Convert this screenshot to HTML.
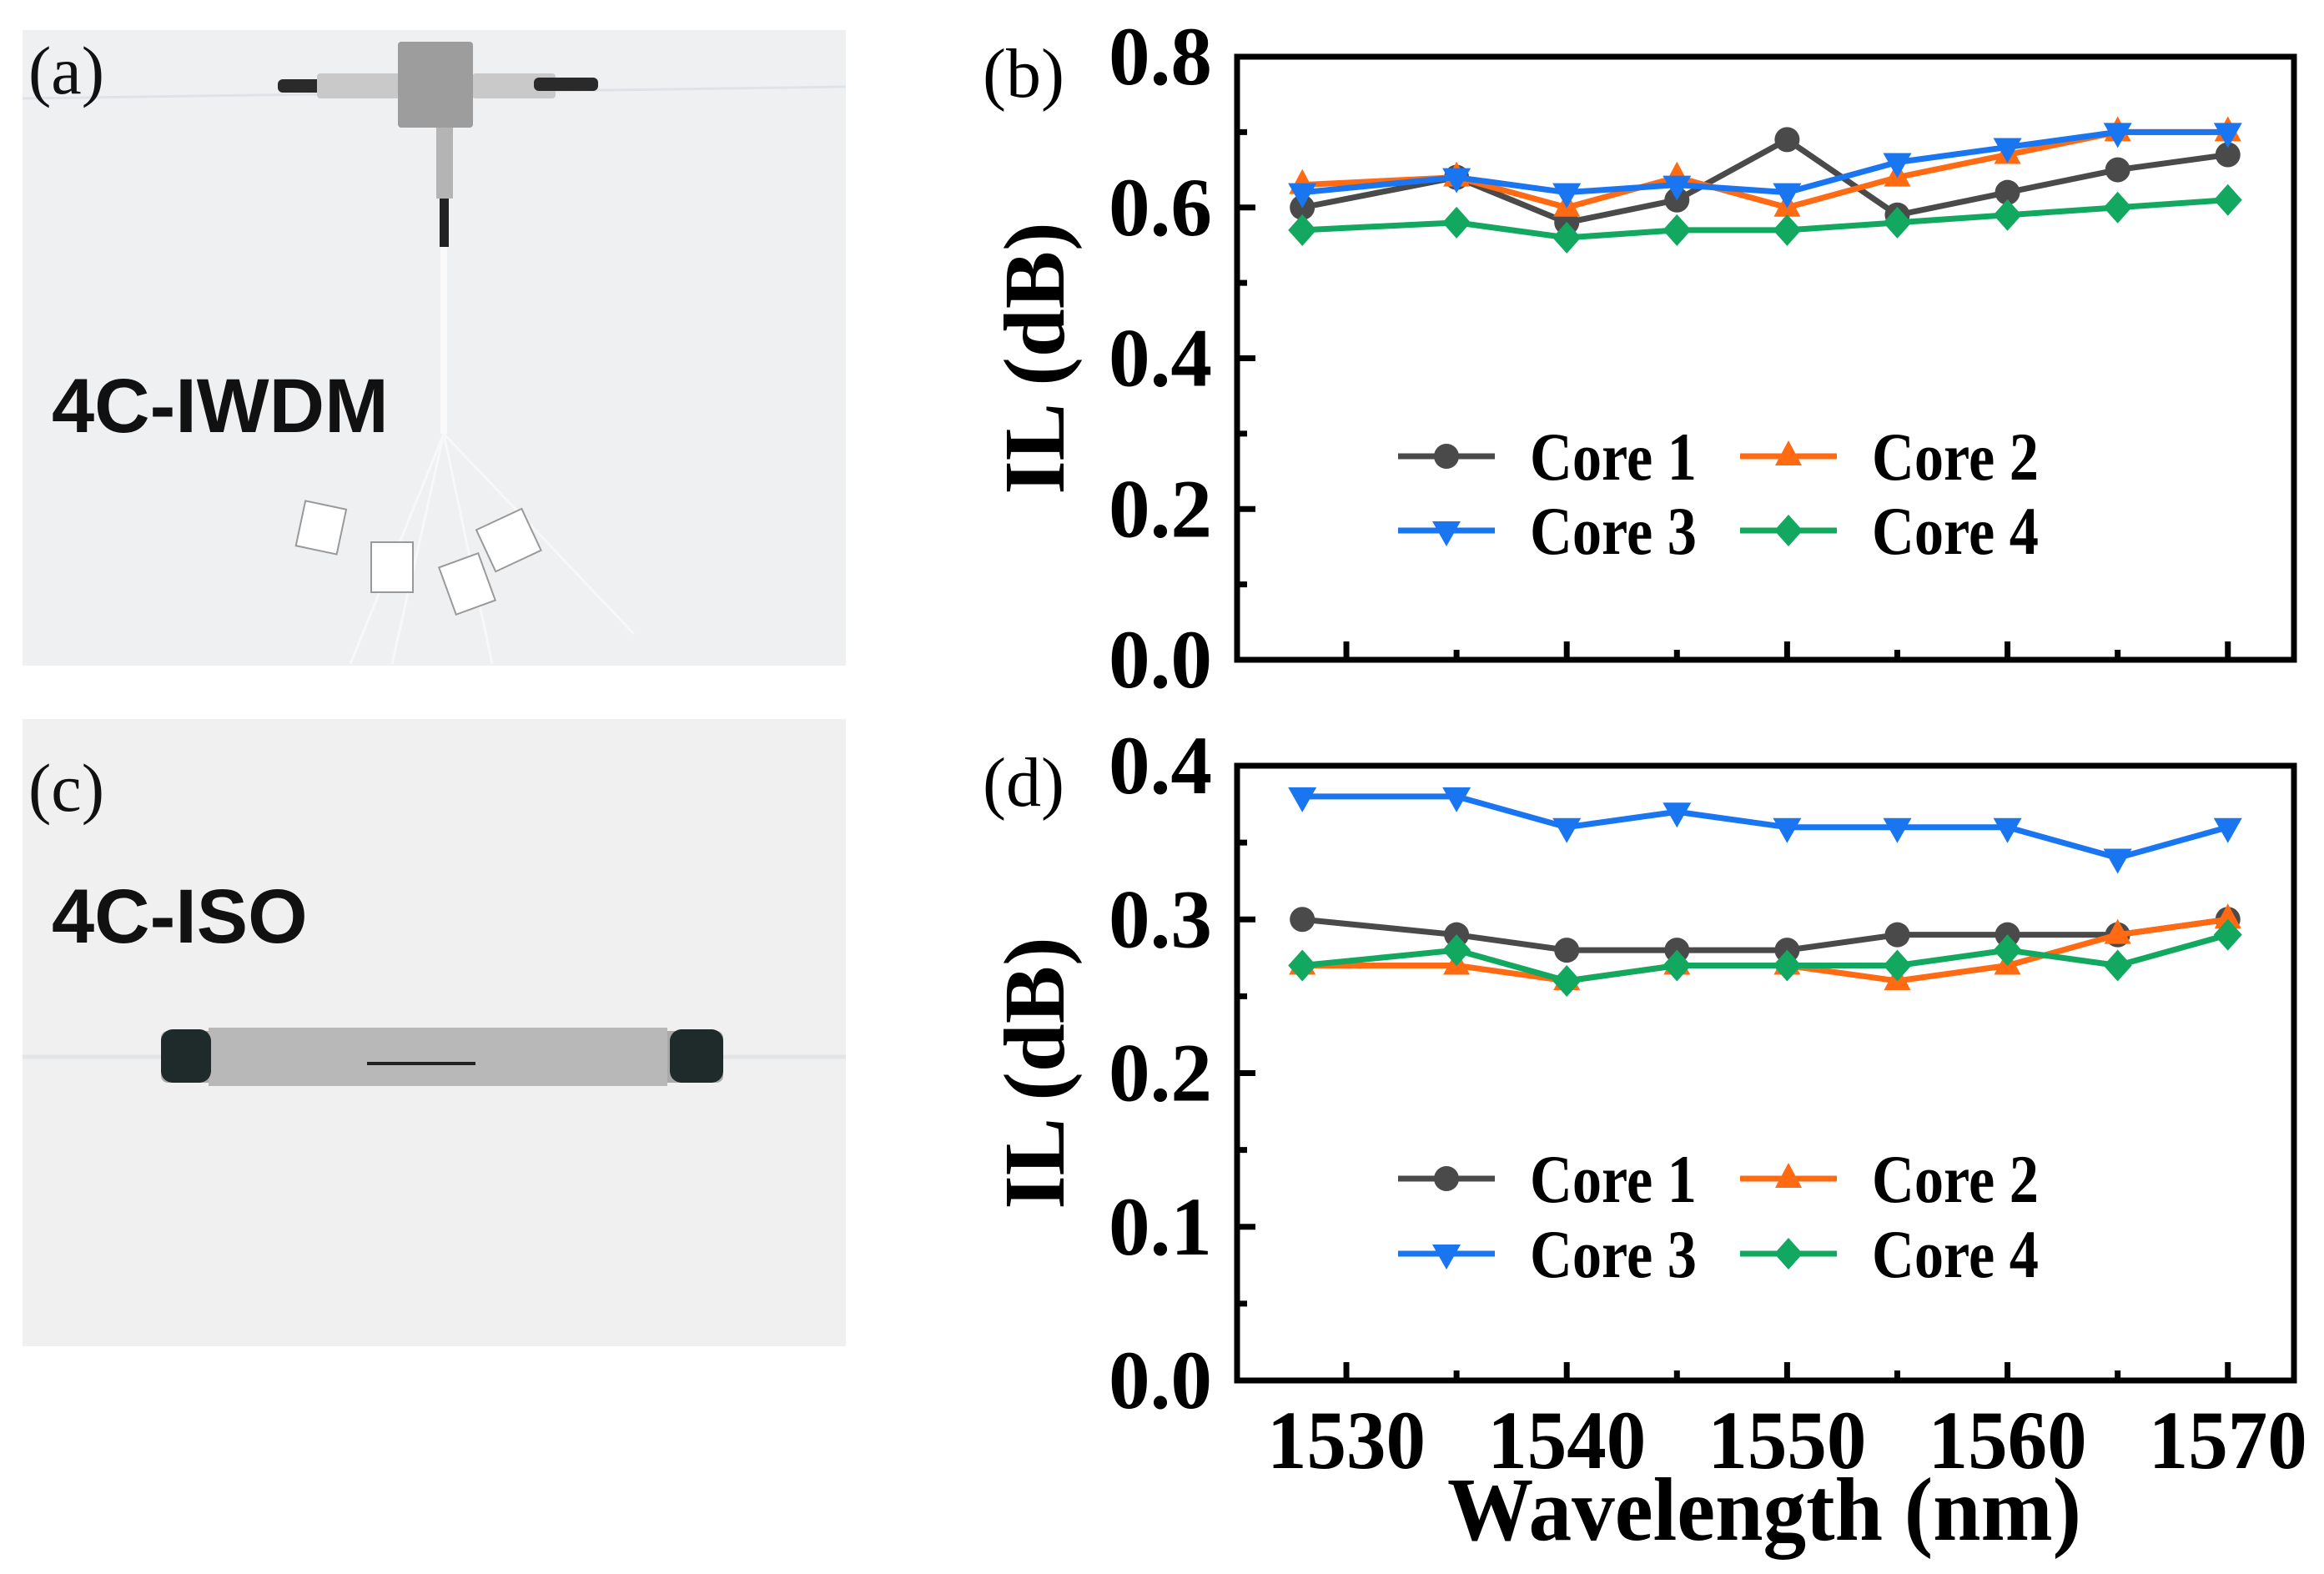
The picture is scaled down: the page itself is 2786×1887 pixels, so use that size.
<!DOCTYPE html>
<html><head><meta charset="utf-8">
<style>
html,body{margin:0;padding:0;background:#fff;}
svg{display:block;}
text{font-family:"Liberation Serif",serif;}
</style></head>
<body>
<svg id="fig" width="2786" height="1887" viewBox="0 0 2786 1887" xmlns="http://www.w3.org/2000/svg">
  <g>
    <rect x="27" y="36" width="987" height="762" fill="#eef0f2"/>
    <line x1="27" y1="118" x2="1014" y2="104" stroke="#dfe3e8" stroke-width="3"/>
    <rect x="333" y="95" width="90" height="16" rx="6" fill="#2a2a2a"/>
    <rect x="380" y="88" width="100" height="30" rx="4" fill="#c9c9c9"/>
    <rect x="566" y="88" width="100" height="30" rx="4" fill="#c9c9c9"/>
    <rect x="640" y="93" width="77" height="16" rx="6" fill="#2a2a2a"/>
    <rect x="477" y="50" width="90" height="103" rx="4" fill="#9d9d9d"/>
    <rect x="523" y="153" width="20" height="85" fill="#b4b4b4"/>
    <rect x="527" y="238" width="11" height="58" fill="#222"/>
    <line x1="532" y1="296" x2="532" y2="520" stroke="#fafafa" stroke-width="8"/>
    <path d="M532 520 L420 796 M532 520 L470 796 M532 520 L590 796 M532 520 L760 760" stroke="#f8f8f8" stroke-width="3" fill="none"/>
    <rect x="360" y="605" width="50" height="55" fill="#fff" stroke="#999" stroke-width="2" transform="rotate(12 385 632)"/>
    <rect x="445" y="650" width="50" height="60" fill="#fff" stroke="#999" stroke-width="2"/>
    <rect x="535" y="670" width="50" height="60" fill="#fff" stroke="#999" stroke-width="2" transform="rotate(-20 560 700)"/>
    <rect x="580" y="620" width="60" height="55" fill="#fff" stroke="#999" stroke-width="2" transform="rotate(-25 610 648)"/>
    <text x="62" y="518" font-weight="bold" font-size="92" fill="#111" style="font-family:'Liberation Sans',sans-serif">4C-IWDM</text>
    <text x="34" y="112" font-size="82" fill="#111">(a)</text>
  </g>
  <g>
    <rect x="27" y="862" width="987" height="752" fill="#f0f0f1"/>
    <line x1="27" y1="1267" x2="1014" y2="1267" stroke="#e2e4e6" stroke-width="5"/>
    <rect x="193" y="1236" width="674" height="62" rx="8" fill="#a9a9a9"/>
    <rect x="250" y="1232" width="550" height="70" fill="#b8b8b8"/>
    <rect x="193" y="1234" width="60" height="64" rx="14" fill="#1f2a2a"/>
    <rect x="803" y="1234" width="64" height="64" rx="14" fill="#1f2a2a"/>
    <line x1="440" y1="1275" x2="570" y2="1275" stroke="#222" stroke-width="4"/>
    <text x="62" y="1130" font-weight="bold" font-size="92" fill="#111" style="font-family:'Liberation Sans',sans-serif">4C-ISO</text>
    <text x="34" y="972" font-size="82" fill="#111">(c)</text>
  </g>
  <g id="charts"></g>
</svg>
<script>
const wavelengths = [1528, 1535, 1540, 1545, 1550, 1555, 1560, 1565, 1570];
const xTicks = [1530, 1540, 1550, 1560, 1570];
const seriesNames = ["Core 1", "Core 2", "Core 3", "Core 4"];
const bCore1 = [0.60, 0.64, 0.58, 0.61, 0.69, 0.59, 0.62, 0.65, 0.67];
const bCore2 = [0.63, 0.64, 0.60, 0.64, 0.60, 0.64, 0.67, 0.70, 0.70];
const bCore3 = [0.62, 0.64, 0.62, 0.63, 0.62, 0.66, 0.68, 0.70, 0.70];
const bCore4 = [0.57, 0.58, 0.56, 0.57, 0.57, 0.58, 0.59, 0.60, 0.61];
const bYTicks = ["0.0", "0.2", "0.4", "0.6", "0.8"];
const dCore1 = [0.30, 0.29, 0.28, 0.28, 0.28, 0.29, 0.29, 0.29, 0.30];
const dCore2 = [0.27, 0.27, 0.26, 0.27, 0.27, 0.26, 0.27, 0.29, 0.30];
const dCore3 = [0.38, 0.38, 0.36, 0.37, 0.36, 0.36, 0.36, 0.34, 0.36];
const dCore4 = [0.27, 0.28, 0.26, 0.27, 0.27, 0.27, 0.28, 0.27, 0.29];
const dYTicks = ["0.0", "0.1", "0.2", "0.3", "0.4"];

const NS = "http://www.w3.org/2000/svg";
const colors = ["#4a4a4a", "#ff6a13", "#1a75f0", "#12a85f"];
const markers = ["circle", "up", "down", "diamond"];
const xMin = 1525.04, xMax = 1573.0, L = 1483, R = 2750;
function xs(v){ return L + (v - xMin) / (xMax - xMin) * (R - L); }
function mk(tag, attrs, parent){ const e = document.createElementNS(NS, tag); for (const k in attrs) e.setAttribute(k, attrs[k]); parent.appendChild(e); return e; }

function marker(g, type, x, y, c){
  let e;
  if (type === "circle") e = mk("circle", {cx:x, cy:y, r:15, fill:c}, g);
  else if (type === "up") e = mk("polygon", {points:`${x},${y-19} ${x+16},${y+11} ${x-16},${y+11}`, fill:c}, g);
  else if (type === "down") e = mk("polygon", {points:`${x},${y+19} ${x+17},${y-11} ${x-17},${y-11}`, fill:c}, g);
  else e = mk("polygon", {points:`${x},${y-19} ${x+17},${y} ${x},${y+19} ${x-17},${y}`, fill:c}, g);
  return e;
}

function drawChart(cfg){
  const root = document.getElementById("charts");
  const g = mk("g", {}, root);
  
  
  const T = cfg.top, B = cfg.bottom, yMax = cfg.yMax;
  const ys = v => B - v / yMax * (B - T);
  const yt = cfg.yTicks;
  for (let i = 0; i < yt.length; i++){
    const v = parseFloat(yt[i]); const y = ys(v);
    const t = mk("line", {x1:L, x2:L+22, y1:y, y2:y, stroke:"#000", "stroke-width":7}, g);
    
    
    if (i < yt.length - 1){
      const ym = ys(v + yMax / (yt.length - 1) / 2);
      const m = mk("line", {x1:L, x2:L+12, y1:ym, y2:ym, stroke:"#000", "stroke-width":7}, g);
      
      
    }
    const lb = mk("text", {x:L-30, y:y+33, "text-anchor":"end", "font-size":100, "font-weight":"bold", textLength:124, lengthAdjust:"spacingAndGlyphs"}, g);
    lb.textContent = yt[i];
    
    
  }
  for (let i = 0; i < xTicks.length; i++){
    const x = xs(xTicks[i]);
    const t = mk("line", {x1:x, x2:x, y1:B, y2:B-22, stroke:"#000", "stroke-width":7}, g);
    
    
    const xm = xs(xTicks[i] + 5);
    if (xTicks[i] + 5 < xMax){
      const m = mk("line", {x1:xm, x2:xm, y1:B, y2:B-12, stroke:"#000", "stroke-width":7}, g);
      
      
    }
    if (cfg.xLabels){
      const lb = mk("text", {x:x, y:B+105, "text-anchor":"middle", "font-size":100, "font-weight":"bold", textLength:190, lengthAdjust:"spacingAndGlyphs"}, g);
      lb.textContent = String(xTicks[i]);
      
      
    }
  }
  cfg.series.forEach((vals, si) => {
    const sg = mk("g", {}, g);
    
    
    const pts = vals.map((v, i) => xs(wavelengths[i]) + "," + ys(v)).join(" ");
    const pl = mk("polyline", {points:pts, fill:"none", stroke:colors[si], "stroke-width":7, "stroke-linejoin":"round"}, sg);
    
    
    vals.forEach((v, i) => {
      const m = marker(sg, markers[si], xs(wavelengths[i]), ys(v), colors[si]);
      
      
    });
  });
  const fr = mk("rect", {x:L, y:T, width:R-L, height:B-T, fill:"none", stroke:"#000", "stroke-width":7}, g);
  
  
  const cy = (T + B) / 2;
  const yt2 = mk("text", {x:1275, y:cy, "text-anchor":"middle", "font-size":104, "font-weight":"bold", transform:`rotate(-90 1275 ${cy})`}, g);
  yt2.textContent = "IL (dB)";
  
  
  const pl = mk("text", {x:1178, y:T+48, "font-size":84}, g);
  pl.textContent = cfg.panel;
  
  
  const lg = mk("g", {}, g);
  
  
  const cols = [1676, 2086], rows = cfg.legendRows;
  seriesNames.forEach((nm, si) => {
    const cx0 = cols[si % 2], ry = rows[Math.floor(si / 2)];
    const eg = mk("g", {}, lg);
    
    
    mk("line", {x1:cx0, x2:cx0+116, y1:ry, y2:ry, stroke:colors[si], "stroke-width":7}, eg);
    marker(eg, markers[si], cx0+58, ry, colors[si]);
    const tx = mk("text", {x:cx0+158, y:ry+28, "font-size":82, "font-weight":"bold", textLength:200, lengthAdjust:"spacingAndGlyphs"}, eg);
    tx.textContent = nm;
  });
}

drawChart({name:"chart-b-iwdm-il", top:68, bottom:791, yMax:0.8, yTicks:bYTicks, series:[bCore1,bCore2,bCore3,bCore4], panel:"(b)", legendRows:[547, 636], xLabels:false});
drawChart({name:"chart-d-iso-il", top:918, bottom:1655, yMax:0.4, yTicks:dYTicks, series:[dCore1,dCore2,dCore3,dCore4], panel:"(d)", legendRows:[1413, 1503], xLabels:true});

const xt = document.createElementNS(NS, "text");
xt.setAttribute("x", 2115); xt.setAttribute("y", 1846);
xt.setAttribute("text-anchor", "middle"); xt.setAttribute("font-size", 108); xt.setAttribute("font-weight", "bold");
xt.setAttribute("textLength", 760); xt.setAttribute("lengthAdjust", "spacingAndGlyphs");
xt.textContent = "Wavelength (nm)";


document.getElementById("charts").appendChild(xt);
</script>
</body></html>
